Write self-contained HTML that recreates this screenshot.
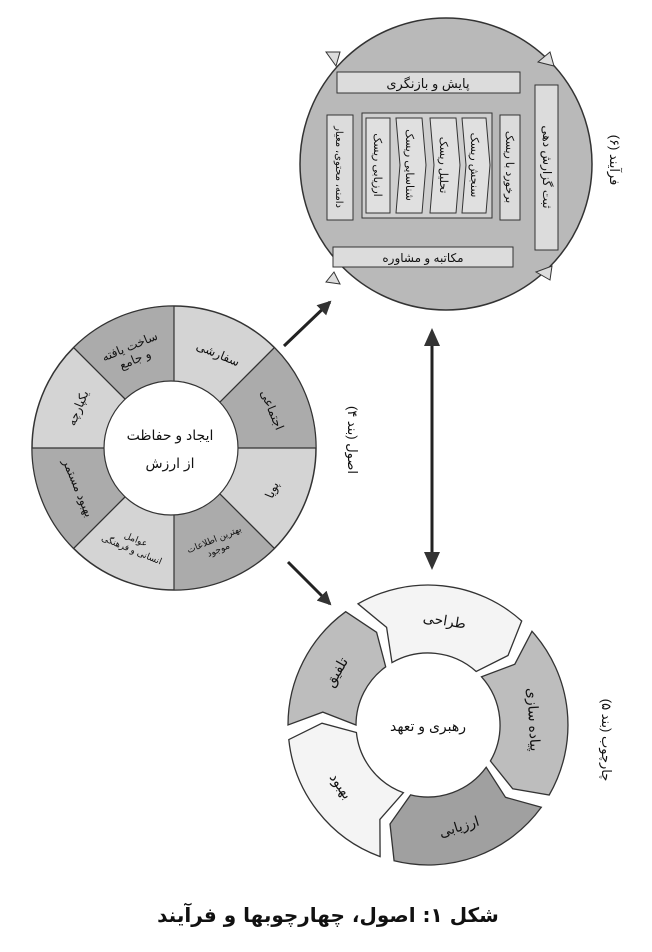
<!DOCTYPE html>
<html><head><meta charset="utf-8">
<style>
html,body{margin:0;padding:0;background:#fff;}
svg{display:block;}
text{font-family:"Liberation Sans","DejaVu Sans",sans-serif;fill:#111;}
</style></head>
<body>
<svg id="s" width="652" height="952" viewBox="0 0 652 952" xmlns="http://www.w3.org/2000/svg">
<defs>
<marker id="ah2" markerWidth="14" markerHeight="14" refX="12" refY="7" orient="auto" markerUnits="userSpaceOnUse">
<path d="M0,0 L14,7 L0,14 Z" fill="#333"/></marker>
</defs>

<!-- TOP CIRCLE (process) -->
<circle cx="446" cy="164" r="146" fill="#b9b9b9" stroke="#333" stroke-width="1.5"/>
<path d="M326,52 l14,0 l-4,14 z M326,282 l14,2 l-6,-12 z M538,62 l12,-10 l4,14 z M536,272 l14,8 l2,-14 z" fill="#ddd" stroke="#333"/>
<rect x="337" y="72" width="183" height="21" fill="#dcdcdc" stroke="#333"/>
<text x="428" y="88" font-size="13" text-anchor="middle">پایش و بازنگری</text>
<rect x="333" y="247" width="180" height="20" fill="#dcdcdc" stroke="#333"/>
<text x="423" y="262" font-size="12" text-anchor="middle">مکاتبه و مشاوره</text>
<rect x="535" y="85" width="23" height="165" fill="#dcdcdc" stroke="#333"/>
<text transform="translate(547,167) rotate(90)" font-size="12" text-anchor="middle" dy="4">ثبت گزارش دهی</text>
<rect x="327" y="115" width="26" height="105" fill="#dcdcdc" stroke="#333"/>
<text transform="translate(340,167) rotate(90)" font-size="10" text-anchor="middle" dy="4">دامنه، محتوی، معیار</text>
<rect x="362" y="113" width="130" height="105" fill="#cfcfcf" stroke="#333"/>
<rect x="366" y="118" width="24" height="95" fill="#e0e0e0" stroke="#333"/>
<path d="M396,118 h26 l4,47 l-4,48 h-26 l4,-48 z" fill="#e0e0e0" stroke="#333"/>
<path d="M430,118 h26 l4,47 l-4,48 h-26 l4,-48 z" fill="#e0e0e0" stroke="#333"/>
<path d="M462,118 h24 l4,47 l-4,48 h-24 l4,-48 z" fill="#e0e0e0" stroke="#333"/>
<text transform="translate(378,165) rotate(90)" font-size="11" text-anchor="middle" dy="4">ارزیابی ریسک</text>
<text transform="translate(410,165) rotate(90)" font-size="11" text-anchor="middle" dy="4">شناسایی ریسک</text>
<text transform="translate(444,165) rotate(90)" font-size="11" text-anchor="middle" dy="4">تحلیل ریسک</text>
<text transform="translate(475,165) rotate(90)" font-size="11" text-anchor="middle" dy="4">سنجش ریسک</text>
<rect x="500" y="115" width="20" height="105" fill="#dcdcdc" stroke="#333"/>
<text transform="translate(510,167) rotate(90)" font-size="11" text-anchor="middle" dy="4">برخورد با ریسک</text>
<text transform="translate(614,160) rotate(90)" font-size="13" text-anchor="middle" dy="4">فرآیند (۶)</text>

<!-- LEFT CIRCLE (principles) -->
<circle cx="174" cy="448" r="142" fill="#d4d4d4" stroke="#333" stroke-width="1.5"/>
<g fill="#ababab" stroke="#333">
<path d="M174,448 L274.4,347.6 A142,142 0 0 1 316,448 Z"/>
<path d="M174,448 L274.4,548.4 A142,142 0 0 1 174,590 Z"/>
<path d="M174,448 L73.6,548.4 A142,142 0 0 1 32,448 Z"/>
<path d="M174,448 L73.6,347.6 A142,142 0 0 1 174,306 Z"/>
</g>
<g stroke="#333" stroke-width="1.2">
<line x1="32" y1="448" x2="316" y2="448"/><line x1="174" y1="306" x2="174" y2="590"/>
<line x1="73.6" y1="347.6" x2="274.4" y2="548.4"/><line x1="73.6" y1="548.4" x2="274.4" y2="347.6"/>
</g>
<circle cx="171" cy="448" r="67" fill="#fff" stroke="#333" stroke-width="1.2"/>
<text x="170" y="440" font-size="14" text-anchor="middle">ایجاد و حفاظت</text>
<text x="170" y="468" font-size="14" text-anchor="middle">از ارزش</text>
<g font-size="12" text-anchor="middle">
<text transform="translate(218,354) rotate(22.5)" dy="4">سفارشی</text>
<text transform="translate(272,410) rotate(67.5)" dy="4">اجتماعی</text>
<text transform="translate(272,490) rotate(-67.5)" dy="4">پویا</text>
<text transform="translate(216,544) rotate(-22.5)" font-size="9"><tspan x="0" dy="-2">بهترین اطلاعات</tspan><tspan x="0" dy="11">موجود</tspan></text>
<text transform="translate(134,544) rotate(22.5)" font-size="9"><tspan x="0" dy="-2">عوامل</tspan><tspan x="0" dy="11">انسانی و فرهنگی</tspan></text>
<text transform="translate(78,488) rotate(67.5)" dy="4">بهبود مستمر</text>
<text transform="translate(78,408) rotate(-67.5)" dy="4">یکپارچه</text>
<text transform="translate(132,352) rotate(-22.5)"><tspan x="0" dy="-2">ساخت یافته</tspan><tspan x="0" dy="14">و جامع</tspan></text>
</g>
<text transform="translate(352,440) rotate(90)" font-size="13" text-anchor="middle" dy="4">اصول (بند ۴)</text>

<!-- ARROWS -->
<line x1="284" y1="346" x2="330" y2="302" stroke="#222" stroke-width="3" marker-end="url(#ah2)"/>
<line x1="288" y1="562" x2="330" y2="604" stroke="#222" stroke-width="3" marker-end="url(#ah2)"/>
<line x1="432" y1="345" x2="432" y2="553" stroke="#222" stroke-width="3"/>
<path d="M432,328 l-8,18 h16 z M432,570 l-8,-18 h16 z" fill="#333"/>

<!-- BOTTOM CIRCLE (framework) -->
<g id="segs"></g>
<text x="428" y="731" font-size="14" text-anchor="middle">رهبری و تعهد</text>
<text transform="translate(606,740) rotate(90)" font-size="13" text-anchor="middle" dy="4">چارچوب (بند ۵)</text>

<text x="328" y="922" font-size="20" font-weight="bold" text-anchor="middle" style='font-family:"DejaVu Sans","Liberation Sans",sans-serif'>شکل ۱: اصول، چهارچوبها و فرآیند</text>
</svg>
<script>
(function(){
var cx=428,cy=725,R=140,r=72,m=(R+r)/2;
function p(a,rad){a=a*Math.PI/180;return (cx+rad*Math.cos(a)).toFixed(1)+","+(cy+rad*Math.sin(a)).toFixed(1);}
var segs=[[240,312,"#f4f4f4","طراحی"],[318,30,"#bdbdbd","پیاده سازی"],[36,104,"#a0a0a0","ارزیابی"],[110,174,"#f4f4f4","بهبود"],[180,234,"#bdbdbd","تلفیق"]];
var g=document.getElementById("segs"),ns="http://www.w3.org/2000/svg";
segs.forEach(function(s){
 var a1=s[0],a2=s[1];if(a2<a1)a2+=360;
 var d="M"+p(a1,R)+" A"+R+","+R+" 0 0 1 "+p(a2,R)+" L"+p(a2+7,m)+" L"+p(a2,r)+" A"+r+","+r+" 0 0 0 "+p(a1,r)+" L"+p(a1+7,m)+" Z";
 var e=document.createElementNS(ns,"path");e.setAttribute("d",d);e.setAttribute("fill",s[2]);e.setAttribute("stroke","#333");e.setAttribute("stroke-width","1.3");g.appendChild(e);
 var am=(a1+a2)/2+3,ar=am*Math.PI/180,x=cx+m*Math.cos(ar),y=cy+m*Math.sin(ar);
 var rot=((am+90)%360+360)%360;if(rot>90&&rot<270)rot-=180;
 var t=document.createElementNS(ns,"text");t.setAttribute("transform","translate("+x.toFixed(1)+","+y.toFixed(1)+") rotate("+rot.toFixed(1)+")");
 t.setAttribute("text-anchor","middle");t.setAttribute("dy","5");t.setAttribute("font-size","14");t.textContent=s[3];g.appendChild(t);
});
})();
</script>
</body></html>
